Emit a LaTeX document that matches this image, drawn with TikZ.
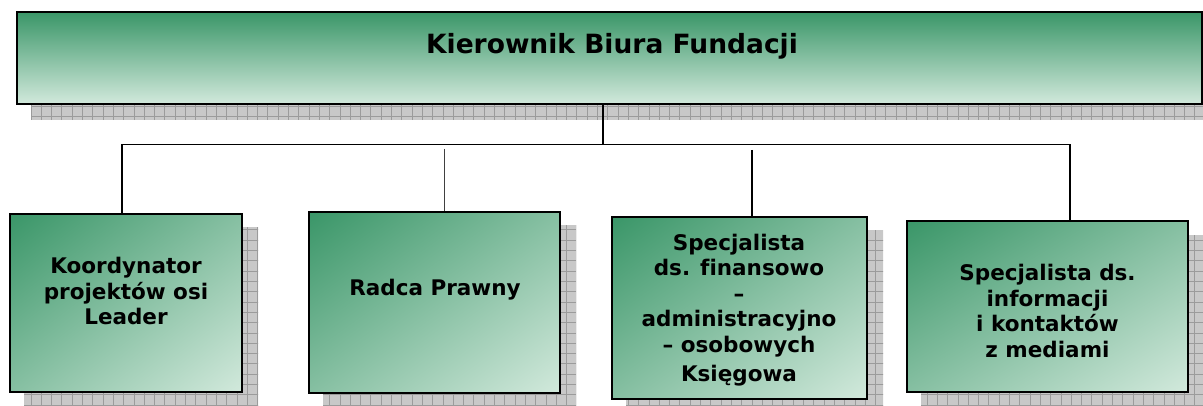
\documentclass[tikz,border=0pt]{standalone}
\usepackage{fontspec}
\setmainfont{DejaVu Sans}[Ligatures=NoCommon]
\usetikzlibrary{backgrounds}
\definecolor{gdark}{RGB}{58,150,104}
\definecolor{glight}{RGB}{210,233,220}
\definecolor{shgray}{RGB}{200,200,200}
\definecolor{shgrid}{RGB}{155,155,155}
% diagonal gradient: dark at top-left, light at bottom-right
\pgfdeclarefunctionalshading{diaggreen}{\pgfpointorigin}{\pgfpoint{100bp}{100bp}}{}{%
  sub 50 add 100 div
  dup 0 lt {pop 0} if dup 1 gt {pop 1} if
  dup dup
  0.455 mul 0.408 add
  exch 0.326 mul 0.588 add
  exch
  3 -1 roll 0.597 mul 0.227 add
  3 1 roll
}
\newcommand\boxshadow[1]{%
  \begin{scope}
    \clip ([shift={(15,-15)}]#1.south west) rectangle ([shift={(15,-15)}]#1.north east);
    \fill[shgray] (-20,-20) rectangle (1320,520);
    \draw[shgrid, line width=0.8pt, step=10.3] (-20.6,-20.6) grid (1320,520);
  \end{scope}}
\tikzset{
  topbox/.style={draw=black, line width=2pt, top color=gdark, bottom color=glight, inner sep=0pt},
  subbox/.style={draw=black, line width=2pt, shade, shading=diaggreen, inner sep=0pt},
  boxtext/.style={align=center, inner sep=0pt, font=\fontsize{21.5}{25.5}\selectfont\bfseries},
  titletext/.style={inner sep=0pt, font=\fontsize{26.5}{30}\selectfont\bfseries},
  conn/.style={draw=black, line width=1.8pt},
  thinconn/.style={draw=black!75, line width=1.3pt}
}
\begin{document}
\begin{tikzpicture}[x=1pt,y=1pt]
\useasboundingbox (0,0) rectangle (1203,405);
% boxes
\node[topbox, minimum width=1185, minimum height=92] (top) at (609.5,347) {};
\node[subbox, minimum width=232, minimum height=178] (b1) at (126,102) {};
\node[subbox, minimum width=251, minimum height=181] (b2) at (434.5,102.5) {};
\node[subbox, minimum width=255, minimum height=182] (b3) at (739.5,97) {};
\node[subbox, minimum width=281, minimum height=171] (b4) at (1047.5,98.5) {};
% texts
\node[titletext] (tt) at (612,359) {Kierownik Biura Fundacji};
\node[boxtext] (t1) at (126,114) {Koordynator\\projektów osi\\Leader};
\node[boxtext] (t2) at (435,115) {Radca Prawny};
\node[boxtext] (t3) at (739,95) {Specjalista\\ds. finansowo\\–\\administracyjno\\– osobowych\\[4pt]Księgowa};
\node[boxtext] (t4) at (1047.5,94) {Specjalista ds.\\informacji\\i kontaktów\\z mediami};
% connectors
\coordinate (bus) at (603,260.5);
\coordinate (bl) at (122,260.5);
\coordinate (br) at (1070,260.5);
\coordinate (d2) at (444.5,256);
\coordinate (d3) at (752,255);
\draw[conn] (top.south -| bus) -- (bus);
\draw[conn] (bl) -- (br);
\draw[conn] (bl) -- (bl |- b1.north);
\draw[thinconn] (d2) -- (d2 |- b2.north);
\draw[conn] (d3) -- (d3 |- b3.north);
\draw[conn] (br) -- (br |- b4.north);
% shadows
\begin{pgfonlayer}{background}
\boxshadow{top}
\boxshadow{b1}
\boxshadow{b2}
\boxshadow{b3}
\boxshadow{b4}
\end{pgfonlayer}
\end{tikzpicture}
\end{document}
